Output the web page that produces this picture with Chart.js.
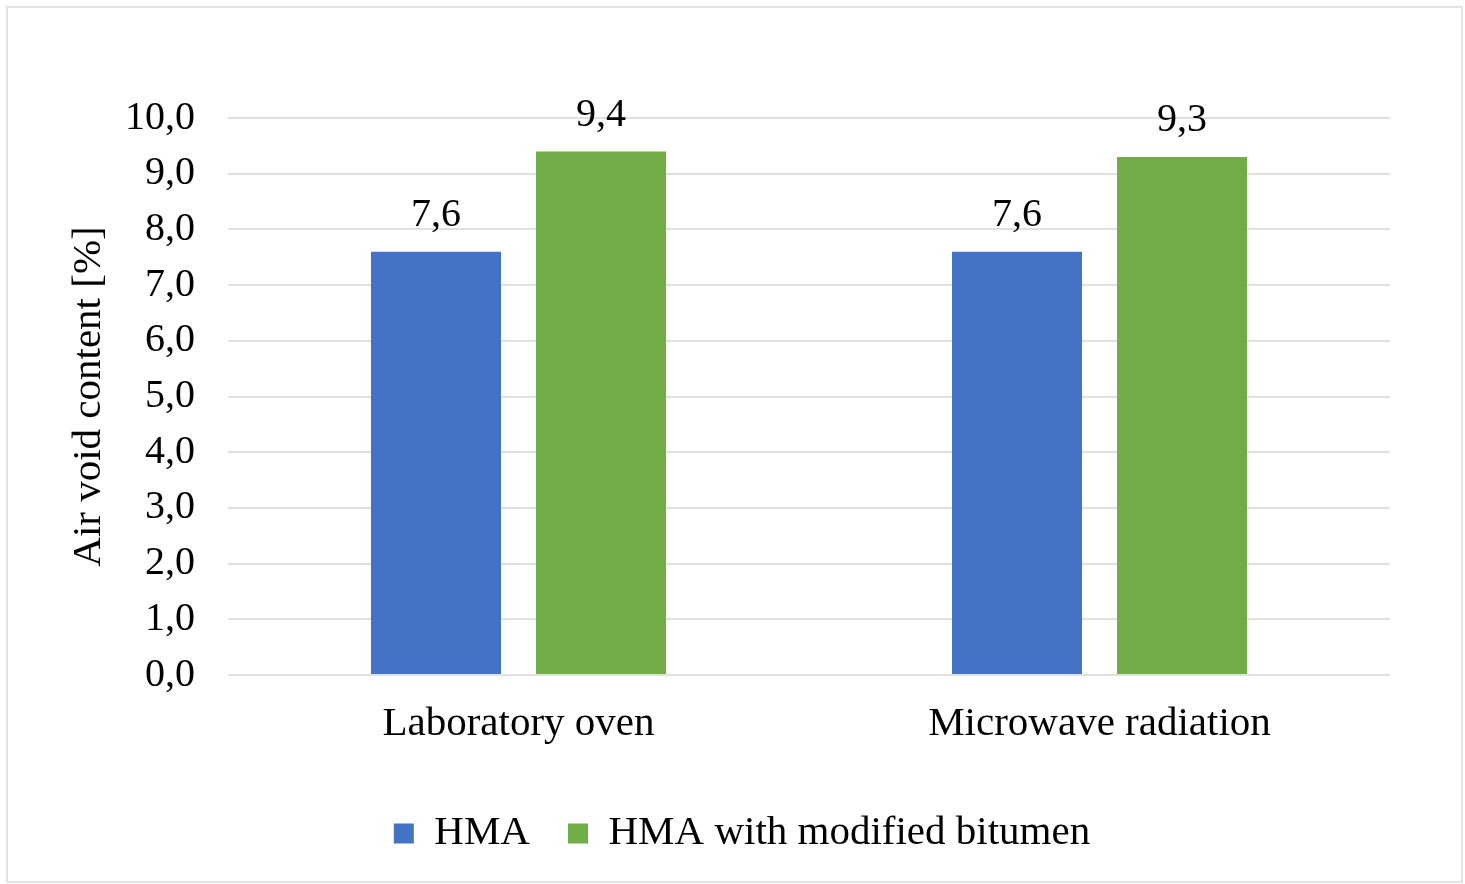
<!DOCTYPE html>
<html>
<head>
<meta charset="utf-8">
<script src="https://cdn.jsdelivr.net/npm/chart.js@4.4.1/dist/chart.umd.min.js"></script>
<style>
  html, body { margin: 0; padding: 0; background: #ffffff; }
  #wrap { position: relative; width: 1465px; height: 884px; }
  #frame {
    position: absolute; left: 6px; top: 6px; width: 1453px; height: 873px;
    border: 2px solid #e3e3e3; box-sizing: content-box;
  }
  canvas { position: absolute; left: 0; top: 0; }
</style>
</head>
<body>
<div id="wrap">
  <div id="frame"></div>
  <canvas id="c" width="1465" height="884"></canvas>
</div>
<script>
// Air void content of the mixes by heating method
const categories = ['Laboratory oven', 'Microwave radiation'];
const seriesNames = ['HMA', 'HMA with modified bitumen'];
const hmaValues = [7.6, 7.6];
const modifiedValues = [9.4, 9.3];
const yTickLabels = ['0,0', '1,0', '2,0', '3,0', '4,0', '5,0', '6,0', '7,0', '8,0', '9,0', '10,0'];
const seriesColors = ['#4472C4', '#70AD47'];

const FONT = "'Liberation Serif', 'Times New Roman', serif";
Chart.defaults.font.family = FONT;
Chart.defaults.color = '#000000';

function commaNumber(v) {
  return v.toFixed(1).replace('.', ',');
}

// Writes each bar's value above it
const valueLabels = {
  id: 'valueLabels',
  afterDatasetsDraw(chart) {
    const ctx = chart.ctx;
    ctx.save();
    ctx.font = '40px ' + FONT;
    ctx.fillStyle = '#000000';
    ctx.textAlign = 'center';
    ctx.textBaseline = 'middle';
    chart.data.datasets.forEach((ds, i) => {
      chart.getDatasetMeta(i).data.forEach((bar, j) => {
        ctx.fillText(commaNumber(ds.data[j]), bar.x, bar.y - 36);
      });
    });
    ctx.restore();
  }
};

new Chart(document.getElementById('c'), {
  type: 'bar',
  data: {
    labels: categories,
    datasets: [
      { label: seriesNames[0], data: hmaValues, backgroundColor: seriesColors[0] },
      { label: seriesNames[1], data: modifiedValues, backgroundColor: seriesColors[1] }
    ]
  },
  options: {
    responsive: false,
    animation: false,
    devicePixelRatio: 1,
    categoryPercentage: 0.568,
    barPercentage: 0.788,
    layout: { padding: { left: 19, right: 0, top: 118, bottom: 20 } },
    plugins: {
      tooltip: { enabled: false },
      legend: {
        position: 'bottom',
        labels: {
          font: { size: 41 },
          color: '#000000',
          boxWidth: 20,
          boxHeight: 20,
          padding: 38
        }
      }
    },
    scales: {
      x: {
        grid: { display: false },
        border: { display: false },
        ticks: { font: { size: 41 }, color: '#000000', padding: 17 },
        afterFit(s) { s.height = 100; }
      },
      y: {
        min: 0,
        max: 10,
        border: { display: false },
        grid: { color: '#e0e0e0', lineWidth: 2, drawTicks: false },
        ticks: {
          stepSize: 1,
          font: { size: 40 },
          color: '#000000',
          padding: 33,
          callback: (v, i) => yTickLabels[i]
        },
        title: {
          display: true,
          text: 'Air void content [%]',
          font: { size: 41 },
          color: '#000000',
          padding: { top: 46, bottom: 0 }
        },
        afterFit(s) { s.width = 209; }
      },
      yRight: {
        position: 'right',
        display: true,
        grid: { display: false },
        border: { display: false },
        ticks: { display: false },
        afterFit(s) { s.width = 75; }
      }
    }
  },
  plugins: [valueLabels]
});
</script>
</body>
</html>
